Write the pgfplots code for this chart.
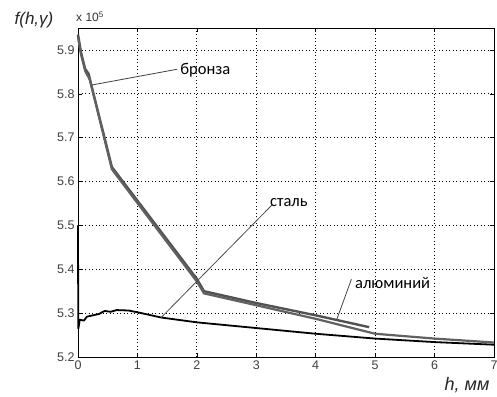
\documentclass[border=0pt]{standalone}
\usepackage{fontspec}
\setmainfont{Liberation Sans}
\newfontfamily\calfont{Carlito}
\usepackage{pgfplots}
\pgfplotsset{compat=1.18}
\begin{document}
\begin{tikzpicture}
\begin{axis}[
  scale only axis, width=416pt, height=329pt,
  xmin=0, xmax=7, ymin=5.2, ymax=5.95,
  xtick={0,...,7}, ytick={5.2,5.3,5.4,5.5,5.6,5.7,5.8,5.9},
  /pgf/number format/assume math mode=true,
  yticklabel style={/pgf/number format/fixed,/pgf/number format/precision=1,/pgf/number format/fixed zerofill},
  ticklabel style={font=\fontsize{12.5}{12.5}\selectfont, text=black!75},
  tick align=inside, major tick length=4pt,
  tick style={black, line width=0.6pt},
  axis line style={black, line width=0.7pt},
  grid=major, major grid style={black, line width=0.8pt, dash pattern=on 0.9pt off 2.6pt},
  clip=false,
]
% bronze
\addplot[color=black!68, line width=2.4pt, line join=round] coordinates {
(0,5.935) (0.05,5.895) (0.12,5.857) (0.18,5.845) (0.22,5.822) (0.57,5.633) (2.0,5.378) (2.12,5.35) (3,5.323) (4,5.295) (4.9,5.268)};
% aluminium
\addplot[color=black!62, line width=2.2pt, line join=round] coordinates {
(0,5.93) (0.05,5.89) (0.12,5.852) (0.2,5.832) (0.57,5.628) (2.0,5.372) (2.12,5.345) (3,5.318) (4,5.287) (5,5.253) (6,5.242) (7,5.233)};
% steel
\addplot[color=black, line width=1.8pt, line join=round] coordinates {
(0,5.5) (0.003,5.34) (0.006,5.265) (0.03,5.285) (0.1,5.283) (0.15,5.292) (0.25,5.295) (0.35,5.298) (0.45,5.305) (0.55,5.303) (0.65,5.307) (0.85,5.306) (1.0,5.302) (1.4,5.29) (2,5.279) (3,5.266) (4,5.253) (5,5.242) (6,5.234) (7,5.228)};
% pointers
\addplot[color=black!75, line width=0.8pt] coordinates {(0.23,5.82) (1.67,5.856)};
\addplot[color=black!70, line width=0.8pt] coordinates {(1.4,5.29) (3.26,5.546)};
\addplot[color=black!75, line width=0.8pt] coordinates {(4.35,5.284) (4.6,5.377)};
\node[anchor=west, inner sep=0pt, font=\calfont\fontsize{16.5}{16.5}\selectfont] at (axis cs:1.72,5.854) {бронза};
\node[anchor=west, inner sep=0pt, font=\calfont\fontsize{16.5}{16.5}\selectfont] at (axis cs:3.23,5.553) {сталь};
\node[anchor=west, inner sep=0pt, font=\calfont\fontsize{16.5}{16.5}\selectfont] at (axis cs:4.66,5.368) {алюминий};
\end{axis}
\node[font=\itshape\fontsize{17}{17}\selectfont, text=black!85] at ([xshift=-44pt,yshift=8pt]current axis.north west) {f(h,γ)};
\node[font=\fontsize{12}{12}\selectfont, text=black!80] at ([xshift=12pt,yshift=11pt]current axis.north west) {x 10\textsuperscript{5}};
\node[font=\itshape\fontsize{18}{18}\selectfont, text=black!85] at ([xshift=-27pt,yshift=-28pt]current axis.south east) {h, мм};
\pgfresetboundingbox
\path[use as bounding box] ([xshift=-78pt,yshift=-39pt]current axis.south west) rectangle ([xshift=3pt,yshift=28pt]current axis.north east);
\end{tikzpicture}
\end{document}
